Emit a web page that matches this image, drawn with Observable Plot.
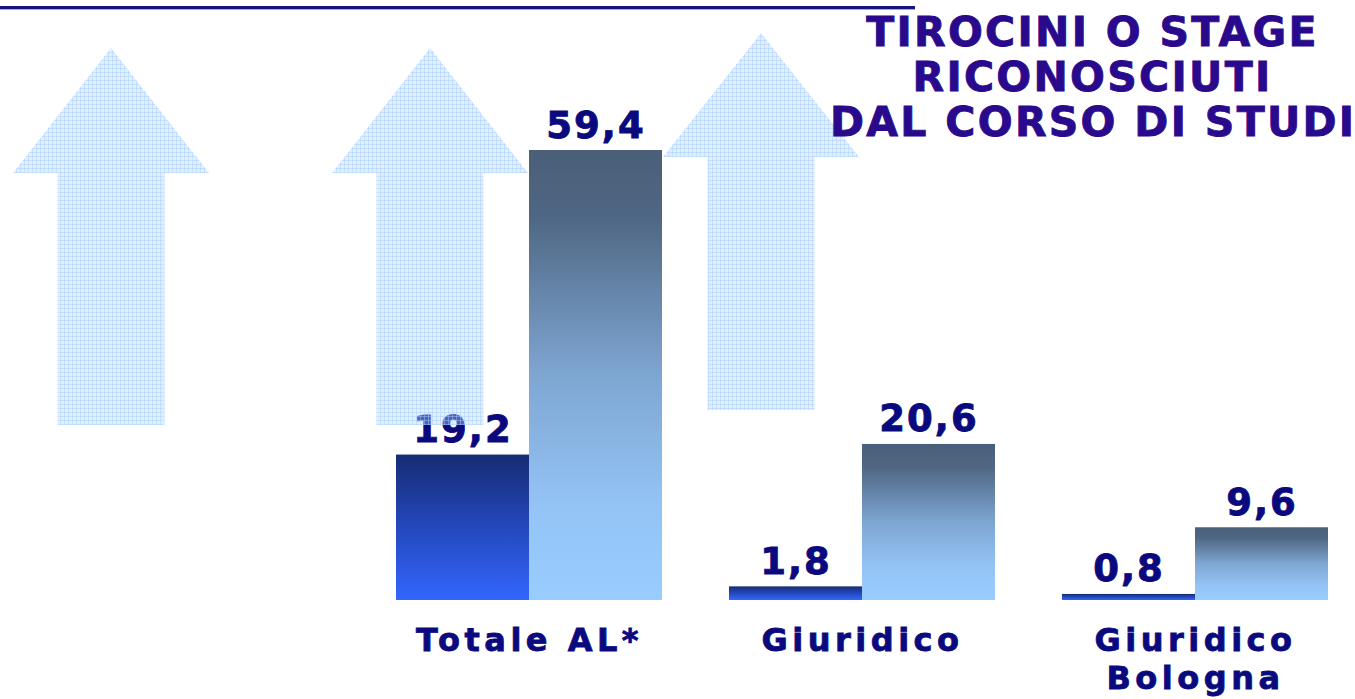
<!DOCTYPE html>
<html>
<head>
<meta charset="utf-8">
<script src="https://cdn.jsdelivr.net/npm/d3@7"></script>
<script src="https://cdn.jsdelivr.net/npm/@observablehq/plot@0.6"></script>
<style>
  html, body { margin: 0; padding: 0; background: #ffffff; }
  #wrap { position: relative; width: 1355px; height: 699px; overflow: hidden; font-family: "DejaVu Sans", Verdana, sans-serif; }
  #topline { position: absolute; left: 0; top: 6px; width: 915px; height: 3px; background: #16167a; border-bottom: 1px solid #a8a8d8; }
  #title { position: absolute; left: 830px; width: 525px; top: 10px; text-align: center; font-size: 41px; line-height: 45px; font-weight: bold; color: #2a0a8c; letter-spacing: 2.3px; -webkit-text-stroke: 0.9px #2a0a8c; white-space: nowrap; }
  #arrows { position: absolute; left: 0; top: 0; pointer-events: none; }
  #chart { position: absolute; left: 0; top: 0; }
</style>
</head>
<body>
<div id="wrap">
  <div id="chart"></div>
  <svg id="arrows" width="1355" height="699"></svg>
  <div id="topline"></div>
  <div id="title">TIROCINI O STAGE<br>RICONOSCIUTI<br>DAL CORSO DI STUDI</div>
</div>
<script>
// ---- data ----
const categories = ["Totale AL*", "Giuridico", "Giuridico\nBologna"];
const series = ["serie 1", "serie 2"];
const values1 = [19.2, 1.8, 0.8];
const values2 = [59.4, 20.6, 9.6];

const data = [];
categories.forEach((c, i) => {
  data.push({category: c, series: series[0], value: values1[i]});
  data.push({category: c, series: series[1], value: values2[i]});
});
const fmt = v => v.toFixed(1).replace(".", ",");
const navy = "#0a0a7e";

const chart = Plot.plot({
  width: 1355,
  height: 699,
  marginLeft: 395,
  marginRight: 25,
  marginTop: 100,
  marginBottom: 99,
  style: {fontFamily: "DejaVu Sans", background: "transparent", overflow: "visible"},
  fx: {domain: categories, paddingInner: 0.2, paddingOuter: 0, axis: null, label: null},
  x: {domain: series, padding: 0, axis: null, label: null},
  y: {domain: [0, 66], axis: null},
  marks: [
    Plot.barY(data.filter(d => d.series === series[0]), {fx: "category", x: "series", y: "value", fill: "url(#grad1)"}),
    Plot.barY(data.filter(d => d.series === series[1]), {fx: "category", x: "series", y: "value", fill: "url(#grad2)"}),
    Plot.text(data, {fx: "category", x: "series", y: "value", text: d => fmt(d.value), dy: -13, lineAnchor: "bottom",
      fontSize: 37, fontWeight: "bold", fill: navy}),
    Plot.axisFx({anchor: "bottom", tickSize: 0, tickPadding: 23, fontSize: 32, fontWeight: "bold",
      color: navy, lineHeight: 1.2, label: null})
  ]
});

const svg = d3.select(chart);
const defs = svg.insert("defs", ":first-child");
const g1 = defs.append("linearGradient").attr("id", "grad1").attr("x1", 0).attr("y1", 0).attr("x2", 0).attr("y2", 1);
g1.append("stop").attr("offset", "0%").attr("stop-color", "#162c74");
g1.append("stop").attr("offset", "50%").attr("stop-color", "#2448bc");
g1.append("stop").attr("offset", "100%").attr("stop-color", "#3366ff");
const g2 = defs.append("linearGradient").attr("id", "grad2").attr("x1", 0).attr("y1", 0).attr("x2", 0).attr("y2", 1);
g2.append("stop").attr("offset", "0%").attr("stop-color", "#4a5f78");
g2.append("stop").attr("offset", "15%").attr("stop-color", "#4f6784");
g2.append("stop").attr("offset", "50%").attr("stop-color", "#7ea6d2");
g2.append("stop").attr("offset", "80%").attr("stop-color", "#94c4f6");
g2.append("stop").attr("offset", "100%").attr("stop-color", "#99ccff");

svg.selectAll('g[aria-label="text"] text')
  .attr("letter-spacing", "2px").attr("stroke", navy).attr("stroke-width", 0.9);
svg.selectAll('g[aria-label="fx-axis tick label"] text')
  .attr("letter-spacing", "4.5px").attr("stroke", navy).attr("stroke-width", 0.8);

document.getElementById("chart").appendChild(chart);

// ---- decorative background arrows ----
const arrowSpecs = [
  {cx: 111, top: 48, headBase: 173, bottom: 425},
  {cx: 430, top: 48, headBase: 173, bottom: 425},
  {cx: 761, top: 33, headBase: 157, bottom: 410}
];
const aSvg = d3.select("#arrows");
const pat = aSvg.append("defs").append("pattern").attr("id", "grid").attr("patternUnits", "userSpaceOnUse")
  .attr("width", 4).attr("height", 4);
pat.append("rect").attr("width", 4).attr("height", 4).attr("fill", "rgba(184,216,255,0.42)");
pat.append("rect").attr("width", 1).attr("height", 4).attr("fill", "rgba(165,205,255,0.45)");
pat.append("rect").attr("width", 4).attr("height", 1).attr("fill", "rgba(165,205,255,0.45)");
const headHalf = 98, shaftHalf = 53.5;
aSvg.selectAll("polygon.arrow").data(arrowSpecs).join("polygon")
  .attr("class", "arrow")
  .attr("fill", "url(#grid)")
  .attr("points", a => [
    [a.cx, a.top], [a.cx + headHalf, a.headBase], [a.cx + shaftHalf, a.headBase],
    [a.cx + shaftHalf, a.bottom], [a.cx - shaftHalf, a.bottom], [a.cx - shaftHalf, a.headBase],
    [a.cx - headHalf, a.headBase]
  ].map(p => p.join(",")).join(" "));
</script>
</body>
</html>
